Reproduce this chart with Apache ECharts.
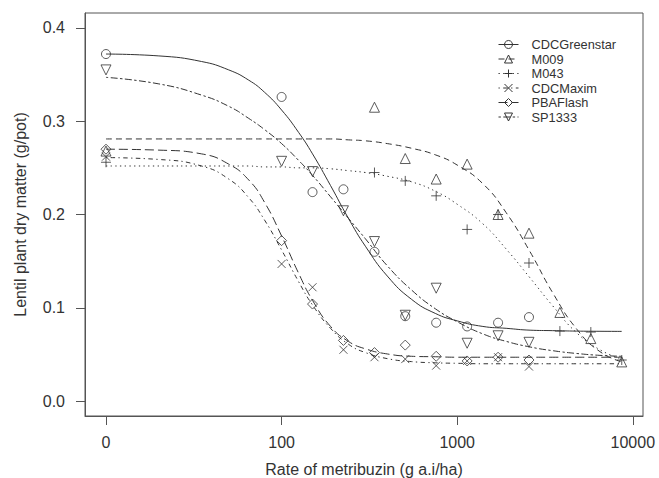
<!DOCTYPE html>
<html>
<head>
<meta charset="utf-8">
<script src="https://cdn.jsdelivr.net/npm/echarts@6/dist/echarts.min.js"></script>
<style>
  html, body { margin: 0; padding: 0; background: #fff; }
  #chart { width: 659px; height: 478px; }
</style>
</head>
<body>
<div id="chart"></div>
<script>
// Metribuzin rates (g a.i/ha) at which dry matter was measured; 0 is the untreated control
const doses = [0, 100, 150, 225, 338, 506, 759, 1139, 1709, 2563, 3844, 5767, 8650];

// Observed lentil plant dry matter (g/pot) per cultivar, aligned with doses (null = not tested)
const greenstarObs = [0.372, 0.326, 0.224, 0.227, 0.160, 0.091, 0.084, 0.080, 0.084, 0.090, null, null, null];
const m009Obs      = [0.268, null, null, null, 0.315, 0.260, 0.238, 0.254, 0.200, 0.180, 0.095, 0.067, 0.042];
const m043Obs      = [0.256, null, null, null, 0.245, 0.236, 0.220, 0.184, 0.200, 0.148, 0.075, 0.074, 0.044];
const maximObs     = [0.262, 0.147, 0.122, 0.055, 0.047, 0.045, 0.038, 0.043, 0.047, 0.037, null, null, null];
const pbaFlashObs  = [0.270, 0.172, 0.104, 0.065, 0.052, 0.060, 0.048, 0.043, 0.047, 0.044, null, null, null];
const sp1333Obs    = [0.355, 0.257, 0.246, 0.204, 0.171, 0.092, 0.121, 0.062, 0.070, 0.063, null, null, null];

// Fitted dose-response curves, sampled along the dose range
const curveDose    = [0, 20, 35, 50, 65, 80, 100, 125, 150, 190, 240, 300, 400, 550, 750, 1000, 1400, 1900, 2600, 3500, 4800, 6500, 8650];
const greenstarFit = [0.372, 0.370, 0.364, 0.355, 0.344, 0.331, 0.312, 0.288, 0.265, 0.231, 0.196, 0.166, 0.134, 0.109, 0.094, 0.086, 0.080, 0.078, 0.076, 0.0755, 0.075, 0.0748, 0.0747];
const m009Fit      = [0.281, 0.281, 0.281, 0.281, 0.281, 0.281, 0.281, 0.281, 0.281, 0.281, 0.280, 0.279, 0.276, 0.271, 0.264, 0.253, 0.233, 0.202, 0.160, 0.116, 0.077, 0.053, 0.042];
const m043Fit      = [0.252, 0.252, 0.252, 0.252, 0.252, 0.251, 0.251, 0.250, 0.250, 0.249, 0.247, 0.245, 0.241, 0.235, 0.225, 0.211, 0.190, 0.163, 0.132, 0.102, 0.073, 0.055, 0.045];
const maximFit     = [0.261, 0.259, 0.252, 0.238, 0.218, 0.194, 0.162, 0.128, 0.103, 0.078, 0.061, 0.052, 0.0455, 0.0423, 0.041, 0.0405, 0.040, 0.040, 0.040, 0.040, 0.040, 0.040, 0.040];
const pbaFlashFit  = [0.270, 0.269, 0.265, 0.254, 0.237, 0.213, 0.177, 0.137, 0.108, 0.080, 0.064, 0.056, 0.0505, 0.048, 0.0475, 0.047, 0.047, 0.047, 0.047, 0.047, 0.047, 0.047, 0.047];
const sp1333Fit    = [0.347, 0.340, 0.328, 0.316, 0.303, 0.291, 0.276, 0.258, 0.242, 0.219, 0.196, 0.174, 0.145, 0.119, 0.099, 0.085, 0.072, 0.064, 0.058, 0.054, 0.051, 0.049, 0.048];

// Axis ticks (log10 of dose; the control sits at the axis break one decade below 100)
const xTickPos = [1, 2, 3, 4];
const xTickLabels = ['0', '100', '1000', '10000'];
const yTickValues = [0, 0.1, 0.2, 0.3, 0.4];

// Axis extents
const X_MIN = 0.8805, X_MAX = 4.058;
const Y_MIN = -0.016, Y_MAX = 0.416;

const INK = '#333';
const FRAME = '#555';
const TICK_LEN = 9;
const PLUS = 'path://M0,5L10,5M5,0L5,10';
const CROSS = 'path://M0,0L10,10M0,10L10,0';

const cultivars = [
  { name: 'CDCGreenstar', obs: greenstarObs, fit: greenstarFit, symbol: 'circle',   size: 9,  rotate: 0,   dash: 'solid' },
  { name: 'M009',         obs: m009Obs,      fit: m009Fit,      symbol: 'triangle', size: 10, rotate: 0,   dash: [6, 4] },
  { name: 'M043',         obs: m043Obs,      fit: m043Fit,      symbol: PLUS,       size: 10, rotate: 0,   dash: [1.3, 3.4] },
  { name: 'CDCMaxim',     obs: maximObs,     fit: maximFit,     symbol: CROSS,      size: 8,  rotate: 0,   dash: [1.3, 3.4, 4.5, 3.4] },
  { name: 'PBAFlash',     obs: pbaFlashObs,  fit: pbaFlashFit,  symbol: 'diamond',  size: 10, rotate: 0,   dash: [9, 4] },
  { name: 'SP1333',       obs: sp1333Obs,    fit: sp1333Fit,    symbol: 'triangle', size: 10, rotate: 180, dash: [2.4, 2.4, 7, 2.4] }
];

// Position on the log10 dose axis; the untreated control is drawn at the break
function xPos(d) { return d === 0 ? 1 : Math.log10(d); }

const markStyle = { color: 'rgba(0,0,0,0)', borderColor: INK, borderWidth: 1 };

const series = [];
cultivars.forEach(function (c) {
  series.push({
    type: 'line',
    name: c.name,
    data: curveDose.map(function (d, i) { return [xPos(d), c.fit[i]]; }),
    smooth: 0.5,
    showSymbol: false,
    symbol: c.symbol,
    symbolSize: c.size,
    symbolRotate: c.rotate,
    lineStyle: { color: INK, width: 1, type: c.dash },
    itemStyle: markStyle,
    silent: true,
    z: 2
  });
});
cultivars.forEach(function (c) {
  const pts = [];
  doses.forEach(function (d, i) {
    if (c.obs[i] !== null) pts.push([xPos(d), c.obs[i]]);
  });
  series.push({
    type: 'scatter',
    name: c.name,
    data: pts,
    symbol: c.symbol,
    symbolSize: c.size,
    symbolRotate: c.rotate,
    itemStyle: markStyle,
    silent: true,
    z: 3
  });
});

const chart = echarts.init(document.getElementById('chart'), null, { renderer: 'svg' });
chart.setOption({
  animation: false,
  backgroundColor: '#fff',
  textStyle: { fontFamily: '"Liberation Sans", Arial, sans-serif', color: INK },
  grid: {
    left: 85, right: 16, top: 13, bottom: 62,
    containLabel: false,
    outerBoundsMode: 'none',
    show: true,
    borderColor: FRAME,
    borderWidth: 1,
    backgroundColor: 'transparent'
  },
  legend: {
    data: cultivars.map(function (c) { return c.name; }),
    orient: 'vertical',
    left: 498,
    top: 38,
    padding: 0,
    itemWidth: 20,
    itemHeight: 10,
    itemGap: 1.5,
    selectedMode: false,
    textStyle: { fontSize: 12.8, color: INK, lineHeight: 13, padding: [0, 0, 0, 8] },
    itemStyle: { borderWidth: 1 },
    lineStyle: { width: 1 }
  },
  xAxis: {
    type: 'value',
    min: X_MIN,
    max: X_MAX,
    name: 'Rate of metribuzin (g a.i/ha)',
    nameLocation: 'middle',
    nameGap: 45,
    nameTextStyle: { fontSize: 16, color: INK },
    axisLine: { show: true, onZero: false, lineStyle: { color: FRAME, width: 1 } },
    splitLine: { show: false },
    axisTick: { show: true, inside: false, customValues: xTickPos, length: TICK_LEN, lineStyle: { color: FRAME, width: 1 } },
    axisLabel: {
      customValues: xTickPos,
      margin: 18,
      fontSize: 16,
      color: INK,
      formatter: function (v) { return xTickLabels[xTickPos.indexOf(Math.round(v))]; }
    }
  },
  yAxis: {
    type: 'value',
    position: 'left',
    min: Y_MIN,
    max: Y_MAX,
    name: 'Lentil plant dry matter (g/pot)',
    nameLocation: 'middle',
    nameGap: 57,
    nameTextStyle: { fontSize: 16, color: INK },
    axisLine: { show: true, onZero: false, lineStyle: { color: FRAME, width: 1 } },
    splitLine: { show: false },
    axisTick: { show: true, inside: false, customValues: yTickValues, length: TICK_LEN, lineStyle: { color: FRAME, width: 1 } },
    axisLabel: {
      customValues: yTickValues,
      margin: 20,
      fontSize: 16,
      color: INK,
      formatter: function (v) { return v.toFixed(1); }
    }
  },
  series: series
});
</script>
</body>
</html>
